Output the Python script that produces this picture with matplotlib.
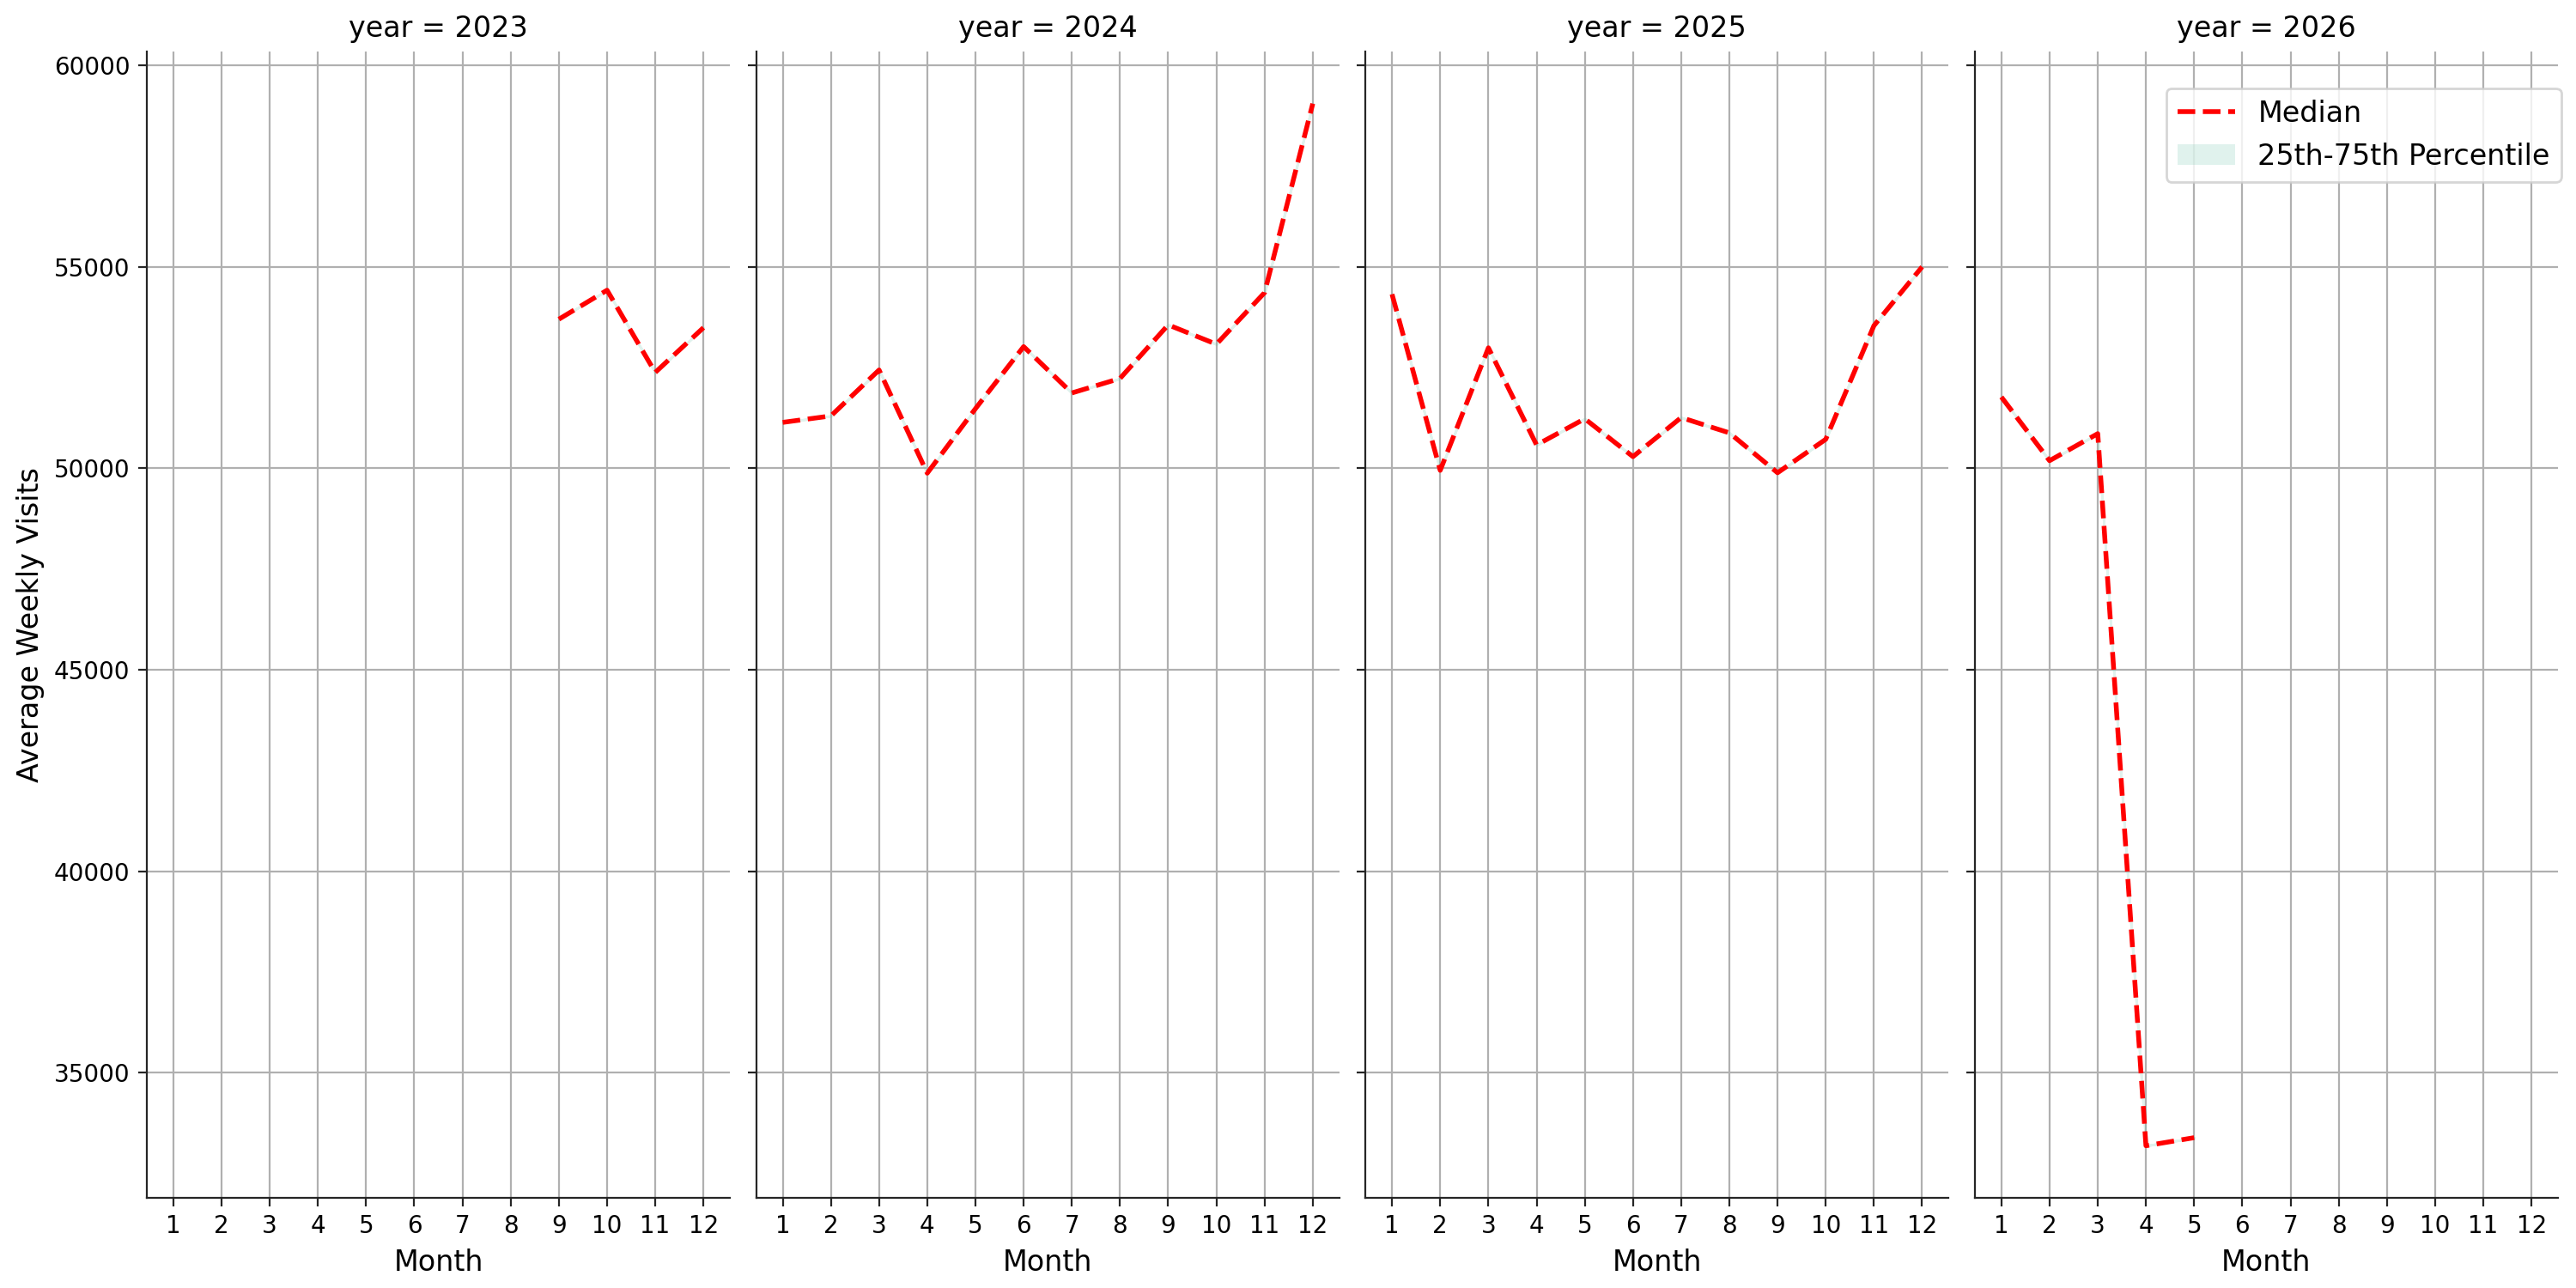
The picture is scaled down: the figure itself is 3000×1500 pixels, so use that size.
import numpy as np
import matplotlib.pyplot as plt
from matplotlib.patches import Patch
from matplotlib.lines import Line2D

years = [2023, 2024, 2025, 2026]

months_2023 = [9, 10, 11, 12]
median_2023 = [53700, 54420, 52380, 53490]

months_2024 = [1, 2, 3, 4, 5, 6, 7, 8, 9, 10, 11, 12]
median_2024 = [51140, 51300, 52440, 49880, 51480, 53020, 51870, 52230,
               53560, 53080, 54360, 59050]

months_2025 = [1, 2, 3, 4, 5, 6, 7, 8, 9, 10, 11, 12]
median_2025 = [54320, 49950, 52990, 50580, 51230, 50290, 51260, 50880,
               49890, 50720, 53540, 55000]

months_2026 = [1, 2, 3, 4, 5]
median_2026 = [51770, 50190, 50860, 33190, 33390]

series = {
    2023: (months_2023, median_2023),
    2024: (months_2024, median_2024),
    2025: (months_2025, median_2025),
    2026: (months_2026, median_2026),
}

plt.rcParams['font.family'] = 'DejaVu Sans'

fig, axes = plt.subplots(1, 4, figsize=(15, 7.5), dpi=200, sharey=True, sharex=True)
fig.subplots_adjust(left=0.057, right=0.993, bottom=0.07, top=0.96, wspace=0.045)

fill_color = '#66c2a5'

for ax, year in zip(axes, years):
    m, med = series[year]
    m = np.array(m)
    med = np.array(med, dtype=float)
    ax.plot(m, med, color='red', linestyle='--', linewidth=2)
    # quartile band collapses onto the median in this data
    ax.fill_between(m, med, med, color=fill_color, alpha=0.2)
    ax.set_title(f'year = {year}', fontsize=12)
    ax.set_xlabel('Month', fontsize=12)
    ax.set_xticks(range(1, 13))
    ax.grid(True, color='#b0b0b0', linewidth=0.8)
    ax.set_axisbelow(True)
    for side in ['top', 'right']:
        ax.spines[side].set_visible(False)
    for side in ['left', 'bottom']:
        ax.spines[side].set_color('#262626')
    ax.tick_params(labelsize=10, color='#262626')

axes[0].set_ylabel('Average Weekly Visits', fontsize=12)
axes[0].set_yticks([35000, 40000, 45000, 50000, 55000, 60000])

handles = [
    Line2D([0], [0], color='red', linestyle='--', linewidth=2),
    Patch(facecolor=fill_color, alpha=0.2, edgecolor='none'),
]
axes[3].legend(handles, ['Median', '25th-75th Percentile'], loc='upper right',
               bbox_to_anchor=(1.006, 0.968), borderaxespad=0, fontsize=12)

fig.savefig('out.png')
